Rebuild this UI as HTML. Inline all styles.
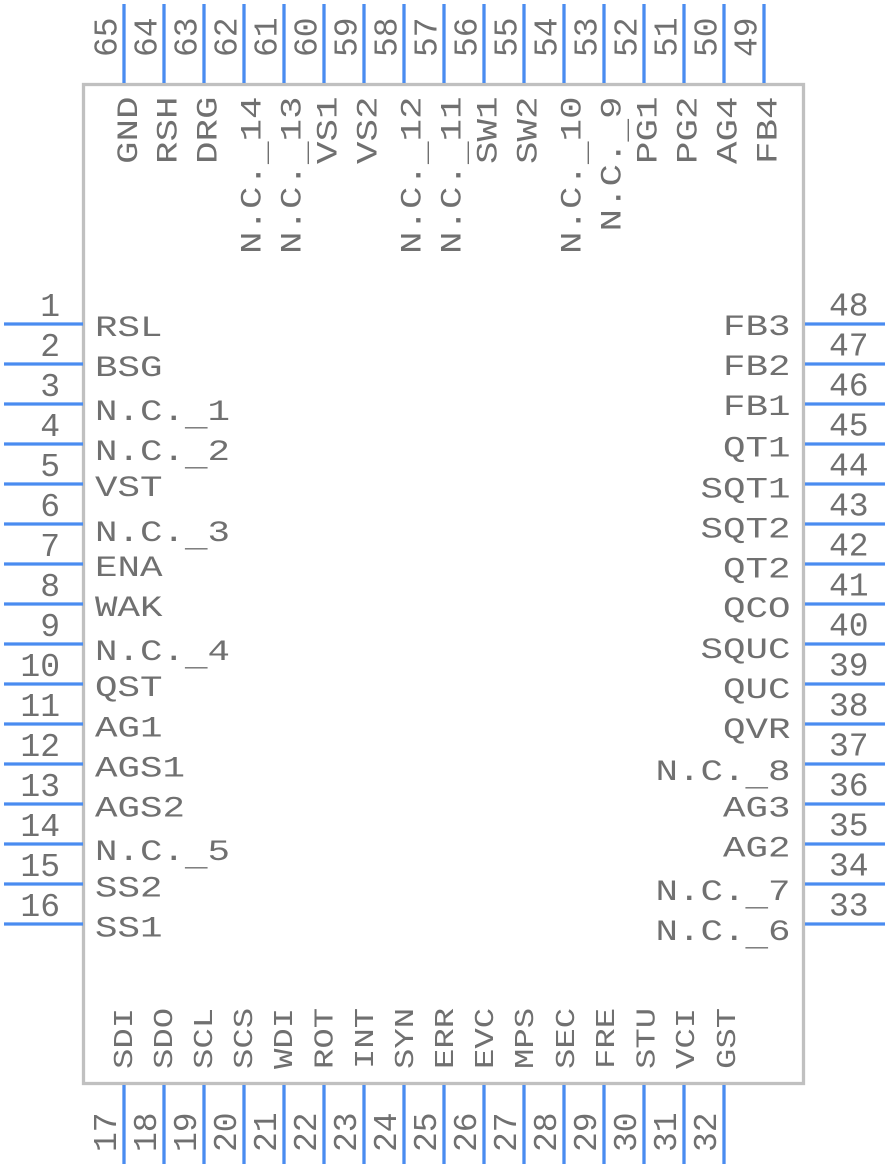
<!DOCTYPE html>
<html>
<head>
<meta charset="utf-8">
<style>
html,body{margin:0;padding:0;background:#fff;}
svg{display:block;}
.pin{stroke:#4a8cf0;stroke-width:3.3;}
.num{font-family:"Liberation Mono",monospace;font-size:33px;fill:#707070;}
.lbl{font-family:"Liberation Mono",monospace;font-size:37.5px;fill:#707070;}
.blbl{font-family:"Liberation Mono",monospace;font-size:34px;fill:#707070;}
</style>
</head>
<body>
<svg width="888" height="1168" viewBox="0 0 888 1168" xmlns="http://www.w3.org/2000/svg">
<rect x="83.5" y="84.5" width="720" height="999" fill="none" stroke="#c0c0c0" stroke-width="3.3"/>

<!-- Left pins -->
<g class="pin">
<line x1="4" y1="324" x2="83" y2="324"/><line x1="4" y1="364" x2="83" y2="364"/>
<line x1="4" y1="404" x2="83" y2="404"/><line x1="4" y1="444" x2="83" y2="444"/>
<line x1="4" y1="484" x2="83" y2="484"/><line x1="4" y1="524" x2="83" y2="524"/>
<line x1="4" y1="564" x2="83" y2="564"/><line x1="4" y1="604" x2="83" y2="604"/>
<line x1="4" y1="644" x2="83" y2="644"/><line x1="4" y1="684" x2="83" y2="684"/>
<line x1="4" y1="724" x2="83" y2="724"/><line x1="4" y1="764" x2="83" y2="764"/>
<line x1="4" y1="804" x2="83" y2="804"/><line x1="4" y1="844" x2="83" y2="844"/>
<line x1="4" y1="884" x2="83" y2="884"/><line x1="4" y1="924" x2="83" y2="924"/>
</g>
<!-- Right pins -->
<g class="pin">
<line x1="805" y1="324" x2="885" y2="324"/><line x1="805" y1="364" x2="885" y2="364"/>
<line x1="805" y1="404" x2="885" y2="404"/><line x1="805" y1="444" x2="885" y2="444"/>
<line x1="805" y1="484" x2="885" y2="484"/><line x1="805" y1="524" x2="885" y2="524"/>
<line x1="805" y1="564" x2="885" y2="564"/><line x1="805" y1="604" x2="885" y2="604"/>
<line x1="805" y1="644" x2="885" y2="644"/><line x1="805" y1="684" x2="885" y2="684"/>
<line x1="805" y1="724" x2="885" y2="724"/><line x1="805" y1="764" x2="885" y2="764"/>
<line x1="805" y1="804" x2="885" y2="804"/><line x1="805" y1="844" x2="885" y2="844"/>
<line x1="805" y1="884" x2="885" y2="884"/><line x1="805" y1="924" x2="885" y2="924"/>
</g>
<!-- Top pins -->
<g class="pin">
<line x1="124" y1="4" x2="124" y2="83"/><line x1="164" y1="4" x2="164" y2="83"/>
<line x1="204" y1="4" x2="204" y2="83"/><line x1="244" y1="4" x2="244" y2="83"/>
<line x1="284" y1="4" x2="284" y2="83"/><line x1="324" y1="4" x2="324" y2="83"/>
<line x1="364" y1="4" x2="364" y2="83"/><line x1="404" y1="4" x2="404" y2="83"/>
<line x1="444" y1="4" x2="444" y2="83"/><line x1="484" y1="4" x2="484" y2="83"/>
<line x1="524" y1="4" x2="524" y2="83"/><line x1="564" y1="4" x2="564" y2="83"/>
<line x1="604" y1="4" x2="604" y2="83"/><line x1="644" y1="4" x2="644" y2="83"/>
<line x1="684" y1="4" x2="684" y2="83"/><line x1="724" y1="4" x2="724" y2="83"/>
<line x1="764" y1="4" x2="764" y2="83"/>
</g>
<!-- Bottom pins -->
<g class="pin">
<line x1="124" y1="1085" x2="124" y2="1164"/><line x1="164" y1="1085" x2="164" y2="1164"/>
<line x1="204" y1="1085" x2="204" y2="1164"/><line x1="244" y1="1085" x2="244" y2="1164"/>
<line x1="284" y1="1085" x2="284" y2="1164"/><line x1="324" y1="1085" x2="324" y2="1164"/>
<line x1="364" y1="1085" x2="364" y2="1164"/><line x1="404" y1="1085" x2="404" y2="1164"/>
<line x1="444" y1="1085" x2="444" y2="1164"/><line x1="484" y1="1085" x2="484" y2="1164"/>
<line x1="524" y1="1085" x2="524" y2="1164"/><line x1="564" y1="1085" x2="564" y2="1164"/>
<line x1="604" y1="1085" x2="604" y2="1164"/><line x1="644" y1="1085" x2="644" y2="1164"/>
<line x1="684" y1="1085" x2="684" y2="1164"/><line x1="724" y1="1085" x2="724" y2="1164"/>
</g>

<!-- Left numbers -->
<g class="num" text-anchor="end">
<text x="60" y="316">1</text><text x="60" y="356">2</text>
<text x="60" y="396">3</text><text x="60" y="436">4</text>
<text x="60" y="476">5</text><text x="60" y="516">6</text>
<text x="60" y="556">7</text><text x="60" y="596">8</text>
<text x="60" y="636">9</text><text x="60" y="676">10</text>
<text x="60" y="716">11</text><text x="60" y="756">12</text>
<text x="60" y="796">13</text><text x="60" y="836">14</text>
<text x="60" y="876">15</text><text x="60" y="916">16</text>
</g>
<!-- Right numbers -->
<g class="num" text-anchor="start">
<text x="829" y="315.5">48</text><text x="829" y="355.5">47</text>
<text x="829" y="395.5">46</text><text x="829" y="435.5">45</text>
<text x="829" y="475.5">44</text><text x="829" y="515.5">43</text>
<text x="829" y="555.5">42</text><text x="829" y="595.5">41</text>
<text x="829" y="635.5">40</text><text x="829" y="675.5">39</text>
<text x="829" y="715.5">38</text><text x="829" y="755.5">37</text>
<text x="829" y="795.5">36</text><text x="829" y="835.5">35</text>
<text x="829" y="875.5">34</text><text x="829" y="915.5">33</text>
</g>
<!-- Top numbers -->
<g class="num" text-anchor="start">
<text transform="translate(116.5,57) rotate(-90)">65</text>
<text transform="translate(156.5,57) rotate(-90)">64</text>
<text transform="translate(196.5,57) rotate(-90)">63</text>
<text transform="translate(236.5,57) rotate(-90)">62</text>
<text transform="translate(276.5,57) rotate(-90)">61</text>
<text transform="translate(316.5,57) rotate(-90)">60</text>
<text transform="translate(356.5,57) rotate(-90)">59</text>
<text transform="translate(396.5,57) rotate(-90)">58</text>
<text transform="translate(436.5,57) rotate(-90)">57</text>
<text transform="translate(476.5,57) rotate(-90)">56</text>
<text transform="translate(516.5,57) rotate(-90)">55</text>
<text transform="translate(556.5,57) rotate(-90)">54</text>
<text transform="translate(596.5,57) rotate(-90)">53</text>
<text transform="translate(636.5,57) rotate(-90)">52</text>
<text transform="translate(676.5,57) rotate(-90)">51</text>
<text transform="translate(716.5,57) rotate(-90)">50</text>
<text transform="translate(756.5,57) rotate(-90)">49</text>
</g>
<!-- Bottom numbers -->
<g class="num" text-anchor="start">
<text transform="translate(116,1152) rotate(-90)">17</text>
<text transform="translate(156,1152) rotate(-90)">18</text>
<text transform="translate(196,1152) rotate(-90)">19</text>
<text transform="translate(236,1152) rotate(-90)">20</text>
<text transform="translate(276,1152) rotate(-90)">21</text>
<text transform="translate(316,1152) rotate(-90)">22</text>
<text transform="translate(356,1152) rotate(-90)">23</text>
<text transform="translate(396,1152) rotate(-90)">24</text>
<text transform="translate(436,1152) rotate(-90)">25</text>
<text transform="translate(476,1152) rotate(-90)">26</text>
<text transform="translate(516,1152) rotate(-90)">27</text>
<text transform="translate(556,1152) rotate(-90)">28</text>
<text transform="translate(596,1152) rotate(-90)">29</text>
<text transform="translate(636,1152) rotate(-90)">30</text>
<text transform="translate(676,1152) rotate(-90)">31</text>
<text transform="translate(716,1152) rotate(-90)">32</text>
</g>

<!-- Left labels -->
<g class="lbl" text-anchor="start">
<text transform="translate(95,336) scale(1,0.8)">RSL</text>
<text transform="translate(95,376) scale(1,0.8)">BSG</text>
<text transform="translate(95,420) scale(1,0.8)">N.C.<tspan dy="7">_</tspan><tspan dy="-7">1</tspan></text>
<text transform="translate(95,460) scale(1,0.8)">N.C.<tspan dy="7">_</tspan><tspan dy="-7">2</tspan></text>
<text transform="translate(95,496) scale(1,0.8)">VST</text>
<text transform="translate(95,541) scale(1,0.8)">N.C.<tspan dy="7">_</tspan><tspan dy="-7">3</tspan></text>
<text transform="translate(95,576) scale(1,0.8)">ENA</text>
<text transform="translate(95,616) scale(1,0.8)">WAK</text>
<text transform="translate(95,660) scale(1,0.8)">N.C.<tspan dy="7">_</tspan><tspan dy="-7">4</tspan></text>
<text transform="translate(95,696) scale(1,0.8)">QST</text>
<text transform="translate(95,736.5) scale(1,0.8)">AG1</text>
<text transform="translate(95,776.5) scale(1,0.8)">AGS1</text>
<text transform="translate(95,816.5) scale(1,0.8)">AGS2</text>
<text transform="translate(95,860) scale(1,0.8)">N.C.<tspan dy="7">_</tspan><tspan dy="-7">5</tspan></text>
<text transform="translate(95,896.5) scale(1,0.8)">SS2</text>
<text transform="translate(95,936.5) scale(1,0.8)">SS1</text>
</g>
<!-- Right labels -->
<g class="lbl" text-anchor="end">
<text transform="translate(790.5,335) scale(1,0.8)">FB3</text>
<text transform="translate(790.5,375) scale(1,0.8)">FB2</text>
<text transform="translate(790.5,415) scale(1,0.8)">FB1</text>
<text transform="translate(790.5,456.5) scale(1,0.8)">QT1</text>
<text transform="translate(790.5,497.5) scale(1,0.8)">SQT1</text>
<text transform="translate(790.5,537.5) scale(1,0.8)">SQT2</text>
<text transform="translate(790.5,577.5) scale(1,0.8)">QT2</text>
<text transform="translate(790.5,617) scale(1,0.8)">QCO</text>
<text transform="translate(790.5,658) scale(1,0.8)">SQUC</text>
<text transform="translate(790.5,698) scale(1,0.8)">QUC</text>
<text transform="translate(790.5,738) scale(1,0.8)">QVR</text>
<text transform="translate(790.5,780) scale(1,0.8)">N.C.<tspan dy="7">_</tspan><tspan dy="-7">8</tspan></text>
<text transform="translate(790.5,816.5) scale(1,0.8)">AG3</text>
<text transform="translate(790.5,856.5) scale(1,0.8)">AG2</text>
<text transform="translate(790.5,900) scale(1,0.8)">N.C.<tspan dy="7">_</tspan><tspan dy="-7">7</tspan></text>
<text transform="translate(790.5,940) scale(1,0.8)">N.C.<tspan dy="7">_</tspan><tspan dy="-7">6</tspan></text>
</g>
<!-- Top labels -->
<g class="lbl" text-anchor="end">
<text transform="translate(137,96.5) rotate(-90) scale(1,0.8)">GND</text>
<text transform="translate(176.7,96.5) rotate(-90) scale(1,0.8)">RSH</text>
<text transform="translate(216.7,96.5) rotate(-90) scale(1,0.8)">DRG</text>
<text transform="translate(260.5,96.5) rotate(-90) scale(1,0.8)">N.C.<tspan dy="7">_</tspan><tspan dy="-7">14</tspan></text>
<text transform="translate(300.5,96.5) rotate(-90) scale(1,0.8)">N.C.<tspan dy="7">_</tspan><tspan dy="-7">13</tspan></text>
<text transform="translate(336.7,96.5) rotate(-90) scale(1,0.8)">VS1</text>
<text transform="translate(376.7,96.5) rotate(-90) scale(1,0.8)">VS2</text>
<text transform="translate(420.5,96.5) rotate(-90) scale(1,0.8)">N.C.<tspan dy="7">_</tspan><tspan dy="-7">12</tspan></text>
<text transform="translate(460.5,96.5) rotate(-90) scale(1,0.8)">N.C.<tspan dy="7">_</tspan><tspan dy="-7">11</tspan></text>
<text transform="translate(496.7,96.5) rotate(-90) scale(1,0.8)">SW1</text>
<text transform="translate(536.7,96.5) rotate(-90) scale(1,0.8)">SW2</text>
<text transform="translate(580.5,96.5) rotate(-90) scale(1,0.8)">N.C.<tspan dy="7">_</tspan><tspan dy="-7">10</tspan></text>
<text transform="translate(620.5,96.5) rotate(-90) scale(1,0.8)">N.C.<tspan dy="7">_</tspan><tspan dy="-7">9</tspan></text>
<text transform="translate(656.7,96.5) rotate(-90) scale(1,0.8)">PG1</text>
<text transform="translate(696.7,96.5) rotate(-90) scale(1,0.8)">PG2</text>
<text transform="translate(736.7,96.5) rotate(-90) scale(1,0.8)">AG4</text>
<text transform="translate(776.7,96.5) rotate(-90) scale(1,0.8)">FB4</text>
</g>
<!-- Bottom labels -->
<g class="blbl" text-anchor="start">
<text transform="translate(132,1069) rotate(-90) scale(1,0.78)">SDI</text>
<text transform="translate(172,1069) rotate(-90) scale(1,0.78)">SDO</text>
<text transform="translate(212,1069) rotate(-90) scale(1,0.78)">SCL</text>
<text transform="translate(252,1069) rotate(-90) scale(1,0.78)">SCS</text>
<text transform="translate(292,1069) rotate(-90) scale(1,0.78)">WDI</text>
<text transform="translate(332.5,1069) rotate(-90) scale(1,0.78)">ROT</text>
<text transform="translate(373,1069) rotate(-90) scale(1,0.78)">INT</text>
<text transform="translate(413,1069) rotate(-90) scale(1,0.78)">SYN</text>
<text transform="translate(453,1069) rotate(-90) scale(1,0.78)">ERR</text>
<text transform="translate(493,1069) rotate(-90) scale(1,0.78)">EVC</text>
<text transform="translate(533,1069) rotate(-90) scale(1,0.78)">MPS</text>
<text transform="translate(574,1069) rotate(-90) scale(1,0.78)">SEC</text>
<text transform="translate(614,1069) rotate(-90) scale(1,0.78)">FRE</text>
<text transform="translate(654.5,1069) rotate(-90) scale(1,0.78)">STU</text>
<text transform="translate(694,1069) rotate(-90) scale(1,0.78)">VCI</text>
<text transform="translate(735,1069) rotate(-90) scale(1,0.78)">GST</text>
</g>
</svg>
</body>
</html>
